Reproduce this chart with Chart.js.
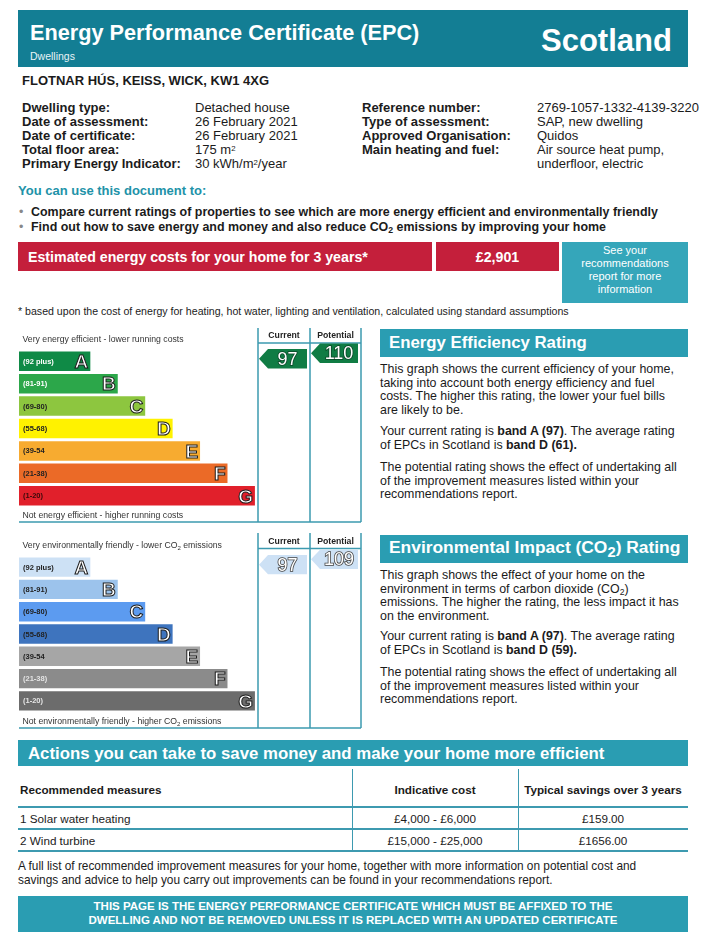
<!DOCTYPE html>
<html>
<head>
<meta charset="utf-8">
<title>EPC Scotland</title>
<script src="https://cdn.jsdelivr.net/npm/chart.js@4.4.1/dist/chart.umd.min.js"></script>
<style>
  body { margin: 0; width: 706px; height: 944px; position: relative; overflow: hidden; background: #fff;
         font-family: "Liberation Sans", Arial, sans-serif; color: #1b1b1b; }
  .t { position: absolute; white-space: nowrap; line-height: 1; }
  .b { font-weight: bold; }
  .box { position: absolute; }
  .teal { background: #2a9db2; }
  .para { position: absolute; left: 380px; font-size: 12.4px; line-height: 13.5px; white-space: nowrap; }
  .det { font-size: 13px; }
  sub { font-size: 70%; line-height: 0; vertical-align: -0.25em; }
  sup { font-size: 60%; line-height: 0; vertical-align: 0.45em; }
  canvas { position: absolute; }
  .hline { position: absolute; left: 18px; width: 670px; height: 1.5px; background: #3d9ab0; }
  .vline { position: absolute; top: 769px; width: 1px; height: 81px; background: #3d9ab0; }
  .cell { position: absolute; font-size: 11.7px; line-height: 1; text-align: center; white-space: nowrap; }
</style>
</head>
<body>

<!-- Cabeçalho -->
<div class="box" style="left:18px;top:10px;width:670px;height:57px;background:#137e94"></div>
<div class="t b" style="left:30px;top:22px;font-size:21.7px;color:#fff">Energy Performance Certificate (EPC)</div>
<div class="t" style="left:30px;top:51px;font-size:10.5px;color:#e8f4f7">Dwellings</div>
<div class="t b" style="left:541px;top:25px;font-size:31px;color:#fff">Scotland</div>

<div class="t b" style="left:22px;top:74px;font-size:13px">FLOTNAR HÚS, KEISS, WICK, KW1 4XG</div>

<!-- Detalhes -->
<div class="t b det" style="left:22px;top:101px">Dwelling type:</div>
<div class="t b det" style="left:22px;top:115px">Date of assessment:</div>
<div class="t b det" style="left:22px;top:129px">Date of certificate:</div>
<div class="t b det" style="left:22px;top:143px">Total floor area:</div>
<div class="t b det" style="left:22px;top:157px">Primary Energy Indicator:</div>
<div class="t det" style="left:195px;top:101px">Detached house</div>
<div class="t det" style="left:195px;top:115px">26 February 2021</div>
<div class="t det" style="left:195px;top:129px">26 February 2021</div>
<div class="t det" style="left:195px;top:143px">175 m<sup>2</sup></div>
<div class="t det" style="left:195px;top:157px">30 kWh/m<sup>2</sup>/year</div>
<div class="t b det" style="left:362px;top:101px">Reference number:</div>
<div class="t b det" style="left:362px;top:115px">Type of assessment:</div>
<div class="t b det" style="left:362px;top:129px">Approved Organisation:</div>
<div class="t b det" style="left:362px;top:143px">Main heating and fuel:</div>
<div class="t det" style="left:537px;top:101px">2769-1057-1332-4139-3220</div>
<div class="t det" style="left:537px;top:115px">SAP, new dwelling</div>
<div class="t det" style="left:537px;top:129px">Quidos</div>
<div class="t det" style="left:537px;top:143px">Air source heat pump,</div>
<div class="t det" style="left:537px;top:157px">underfloor, electric</div>

<div class="t b" style="left:18px;top:184px;font-size:13px;color:#2192a8">You can use this document to:</div>
<div class="t" style="left:19px;top:205.5px;font-size:12.5px;color:#888">•</div>
<div class="t b" style="left:31px;top:205.5px;font-size:12.45px">Compare current ratings of properties to see which are more energy efficient and environmentally friendly</div>
<div class="t" style="left:19px;top:220.5px;font-size:12.5px;color:#888">•</div>
<div class="t b" style="left:31px;top:220.5px;font-size:12.45px">Find out how to save energy and money and also reduce CO<sub>2</sub> emissions by improving your home</div>

<!-- Custos -->
<div class="box" style="left:18px;top:242px;width:414px;height:29px;background:#c41f3b"></div>
<div class="t b" style="left:28px;top:250px;font-size:14.2px;color:#fff">Estimated energy costs for your home for 3 years*</div>
<div class="box" style="left:436px;top:242px;width:123px;height:29px;background:#c41f3b"></div>
<div class="t b" style="left:436px;top:250px;width:123px;text-align:center;font-size:14.2px;color:#fff">£2,901</div>
<div class="box" style="left:562px;top:242px;width:126px;height:61px;background:#35a6ba"></div>
<div class="box" style="left:562px;top:243.7px;width:126px;font-size:11px;line-height:13px;color:#fff;text-align:center">See your<br>recommendations<br>report for more<br>information</div>
<div class="t" style="left:18px;top:306px;font-size:10.6px">* based upon the cost of energy for heating, hot water, lighting and ventilation, calculated using standard assumptions</div>

<!-- Gráficos -->
<canvas id="energyChart" width="346" height="204" style="left:18px;top:326px"></canvas>
<canvas id="co2Chart" width="346" height="200" style="left:18px;top:532px"></canvas>

<!-- Texto da direita -->
<div class="box teal" style="left:380px;top:329px;width:308px;height:28px"></div>
<div class="t b" style="left:389px;top:335px;font-size:16.8px;color:#fff">Energy Efficiency Rating</div>
<div class="para" style="top:363px">This graph shows the current efficiency of your home,<br>taking into account both energy efficiency and fuel<br>costs. The higher this rating, the lower your fuel bills<br>are likely to be.</div>
<div class="para" style="top:425px">Your current rating is <b>band A (97)</b>. The average rating<br>of EPCs in Scotland is <b>band D (61).</b></div>
<div class="para" style="top:461px">The potential rating shows the effect of undertaking all<br>of the improvement measures listed within your<br>recommendations report.</div>

<div class="box teal" style="left:380px;top:535px;width:308px;height:28px"></div>
<div class="t b" style="left:389px;top:539px;font-size:17.4px;color:#fff">Environmental Impact (CO<sub style="font-size:85%">2</sub>) Rating</div>
<div class="para" style="top:569px">This graph shows the effect of your home on the<br>environment in terms of carbon dioxide (CO<sub>2</sub>)<br>emissions. The higher the rating, the less impact it has<br>on the environment.</div>
<div class="para" style="top:630px">Your current rating is <b>band A (97)</b>. The average rating<br>of EPCs in Scotland is <b>band D (59).</b></div>
<div class="para" style="top:666px">The potential rating shows the effect of undertaking all<br>of the improvement measures listed within your<br>recommendations report.</div>

<!-- Ações -->
<div class="box teal" style="left:18px;top:740px;width:670px;height:26px"></div>
<div class="t b" style="left:28px;top:746px;font-size:16.8px;color:#fff">Actions you can take to save money and make your home more efficient</div>
<div class="vline" style="left:352px"></div>
<div class="vline" style="left:518px"></div>
<div class="hline" style="top:806px"></div>
<div class="hline" style="top:828px"></div>
<div class="hline" style="top:850px"></div>
<div class="cell b" style="left:20px;top:784px;text-align:left">Recommended measures</div>
<div class="cell b" style="left:352px;top:784px;width:166px">Indicative cost</div>
<div class="cell b" style="left:518px;top:784px;width:170px">Typical savings over 3 years</div>
<div class="cell" style="left:20px;top:813px;text-align:left">1 Solar water heating</div>
<div class="cell" style="left:352px;top:813px;width:166px">£4,000 - £6,000</div>
<div class="cell" style="left:518px;top:813px;width:170px">£159.00</div>
<div class="cell" style="left:20px;top:835px;text-align:left">2 Wind turbine</div>
<div class="cell" style="left:352px;top:835px;width:166px">£15,000 - £25,000</div>
<div class="cell" style="left:518px;top:835px;width:170px">£1656.00</div>

<div class="box" style="left:18px;top:860px;font-size:11.85px;line-height:13.5px;white-space:nowrap">A full list of recommended improvement measures for your home, together with more information on potential cost and<br>savings and advice to help you carry out improvements can be found in your recommendations report.</div>

<div class="box teal" style="left:18px;top:896px;width:670px;height:36px"></div>
<div class="box b" style="left:18px;top:900px;width:670px;font-size:11.5px;line-height:13.5px;color:#fff;text-align:center">THIS PAGE IS THE ENERGY PERFORMANCE CERTIFICATE WHICH MUST BE AFFIXED TO THE<br>DWELLING AND NOT BE REMOVED UNLESS IT IS REPLACED WITH AN UPDATED CERTIFICATE</div>

<script>
// Dados das bandas
const bandLetters = ['A', 'B', 'C', 'D', 'E', 'F', 'G'];
const bandRanges = ['(92 plus)', '(81-91)', '(69-80)', '(55-68)', '(39-54', '(21-38)', '(1-20)'];
const bandMins = [92, 81, 69, 55, 39, 21, 1];
const bandWidths = [26, 36, 46, 56, 66, 76, 86];
// [atual, potencial]
const energyRatings = [97, 110];
const co2Ratings = [97, 109];

const energyColors = ['#0f8a46', '#2ca74a', '#8dc63f', '#fff200', '#f7ab30', '#eb6a27', '#e1202b'];
const energyInk = ['#fff', '#fff', '#222', '#222', '#222', '#222', '#3a0a0a'];
const co2Colors = ['#cde1f5', '#9cc3ec', '#5c9bf0', '#3e74be', '#a6a6a6', '#8b8b8b', '#6c6c6c'];
const co2Ink = ['#222', '#222', '#222', '#222', '#222', '#e4e4e4', '#e4e4e4'];

const FONT = '"Liberation Sans", Arial, sans-serif';

// Converte uma classificação numa posição (índice fracionário) da escala de categorias
function ratingToIndex(r) {
    let i = bandMins.findIndex(m => r >= m);
    if (i < 0) i = bandMins.length - 1;
    const lo = bandMins[i];
    const hi = i === 0 ? 100 : bandMins[i - 1] - 1;
    const idx = i + 0.5 - (r - lo + 0.5) / (hi - lo + 1);
    return Math.max(idx, i - 0.35);
}

// Texto com "CO2" em índice
function drawRich(ctx, text, x, y, size) {
    const parts = text.split('CO2');
    let cx = x;
    parts.forEach((p, k) => {
        const s = p + (k < parts.length - 1 ? 'CO' : '');
        ctx.font = size + 'px ' + FONT;
        ctx.fillText(s, cx, y);
        cx += ctx.measureText(s).width;
        if (k < parts.length - 1) {
            ctx.font = (size * 0.7) + 'px ' + FONT;
            ctx.fillText('2', cx, y + size * 0.25);
            cx += ctx.measureText('2').width;
        }
    });
}

function drawArrow(ctx, left, right, yc, h, fill, label, ink, outline) {
    const tip = 9;
    ctx.beginPath();
    ctx.moveTo(left, yc);
    ctx.lineTo(left + tip, yc - h / 2);
    ctx.lineTo(right, yc - h / 2);
    ctx.lineTo(right, yc + h / 2);
    ctx.lineTo(left + tip, yc + h / 2);
    ctx.closePath();
    ctx.fillStyle = fill;
    ctx.fill();
    ctx.font = '18px ' + FONT;
    ctx.textAlign = 'center';
    ctx.textBaseline = 'middle';
    const cx = (left + tip + right) / 2;
    ctx.lineWidth = 1.6;
    ctx.strokeStyle = outline;
    ctx.strokeText(label, cx, yc + 1);
    ctx.fillStyle = ink;
    ctx.fillText(label, cx, yc + 1);
}

const ratingFrame = {
    id: 'ratingFrame',
    afterDatasetsDraw(chart, args, opts) {
        const ctx = chart.ctx;
        const meta = chart.getDatasetMeta(0);
        const yScale = chart.scales.y;
        const colX = opts.colX;
        ctx.save();

        // linhas da grelha
        ctx.strokeStyle = '#3d9ab0';
        ctx.lineWidth = 1.5;
        ctx.beginPath();
        colX.forEach(x => { ctx.moveTo(x, opts.topY); ctx.lineTo(x, opts.bottomY); });
        ctx.moveTo(colX[0], opts.headY);
        ctx.lineTo(colX[2], opts.headY);
        ctx.moveTo(1, opts.bottomY);
        ctx.lineTo(colX[2], opts.bottomY);
        ctx.stroke();

        // cabeçalhos das colunas
        ctx.fillStyle = '#222';
        ctx.font = 'bold 8.7px ' + FONT;
        ctx.textAlign = 'center';
        ctx.textBaseline = 'middle';
        ctx.fillText('Current', (colX[0] + colX[1]) / 2, 9.5);
        ctx.fillText('Potential', (colX[1] + colX[2]) / 2, 9.5);

        // legendas de topo e de fundo
        ctx.textAlign = 'left';
        ctx.fillStyle = '#333';
        drawRich(ctx, opts.topText, 4.5, 14, 8.7);
        drawRich(ctx, opts.bottomText, 4.5, 190, 8.7);

        // etiquetas dentro das bandas
        meta.data.forEach((bar, i) => {
            ctx.textBaseline = 'middle';
            ctx.textAlign = 'left';
            ctx.font = 'bold 7.5px ' + FONT;
            ctx.fillStyle = opts.ink[i];
            ctx.fillText(bandRanges[i], bar.base + 4, bar.y + 0.5);

            ctx.textAlign = 'right';
            ctx.font = 'bold 19px ' + FONT;
            ctx.lineWidth = 1;
            ctx.strokeStyle = '#1a1a1a';
            ctx.fillStyle = '#fff';
            ctx.fillText(bandLetters[i], bar.x - 2, bar.y + 1.5);
            ctx.strokeText(bandLetters[i], bar.x - 2, bar.y + 1.5);
        });

        // setas atual / potencial
        const h = meta.data[0].height;
        opts.ratings.forEach((r, k) => {
            const yc = yScale.getPixelForValue(ratingToIndex(r));
            drawArrow(ctx, colX[k] + 1, colX[k + 1] - 3, yc, h,
                opts.arrowFill, String(r), opts.arrowInk, opts.arrowOutline);
        });
        ctx.restore();
    }
};

function makeRatingChart(id, colors, frameOpts, padBottom) {
    return new Chart(document.getElementById(id), {
        type: 'bar',
        data: {
            labels: bandLetters,
            datasets: [{
                data: bandWidths,
                backgroundColor: colors,
                borderWidth: 0,
                barPercentage: 0.87,
                categoryPercentage: 1
            }]
        },
        options: {
            indexAxis: 'y',
            responsive: false,
            animation: false,
            events: [],
            layout: { padding: { left: 1, right: 1, top: 24, bottom: padBottom } },
            scales: {
                x: { display: false, min: 0, max: 125.4 },
                y: { display: false }
            },
            plugins: {
                legend: { display: false },
                tooltip: { enabled: false },
                ratingFrame: frameOpts
            }
        },
        plugins: [ratingFrame]
    });
}

makeRatingChart('energyChart', energyColors, {
    colX: [240, 292, 343], topY: 2, headY: 17, bottomY: 196,
    topText: 'Very energy efficient - lower running costs',
    bottomText: 'Not energy efficient - higher running costs',
    ink: energyInk, ratings: energyRatings,
    arrowFill: '#107c44', arrowInk: '#fff', arrowOutline: 'rgba(0,0,0,0.45)'
}, 23);

makeRatingChart('co2Chart', co2Colors, {
    colX: [240, 292, 343], topY: 1, headY: 16.5, bottomY: 196,
    topText: 'Very environmentally friendly - lower CO2 emissions',
    bottomText: 'Not environmentally friendly - higher CO2 emissions',
    ink: co2Ink, ratings: co2Ratings,
    arrowFill: '#cde1f5', arrowInk: '#fff', arrowOutline: '#444'
}, 20);
</script>
</body>
</html>
